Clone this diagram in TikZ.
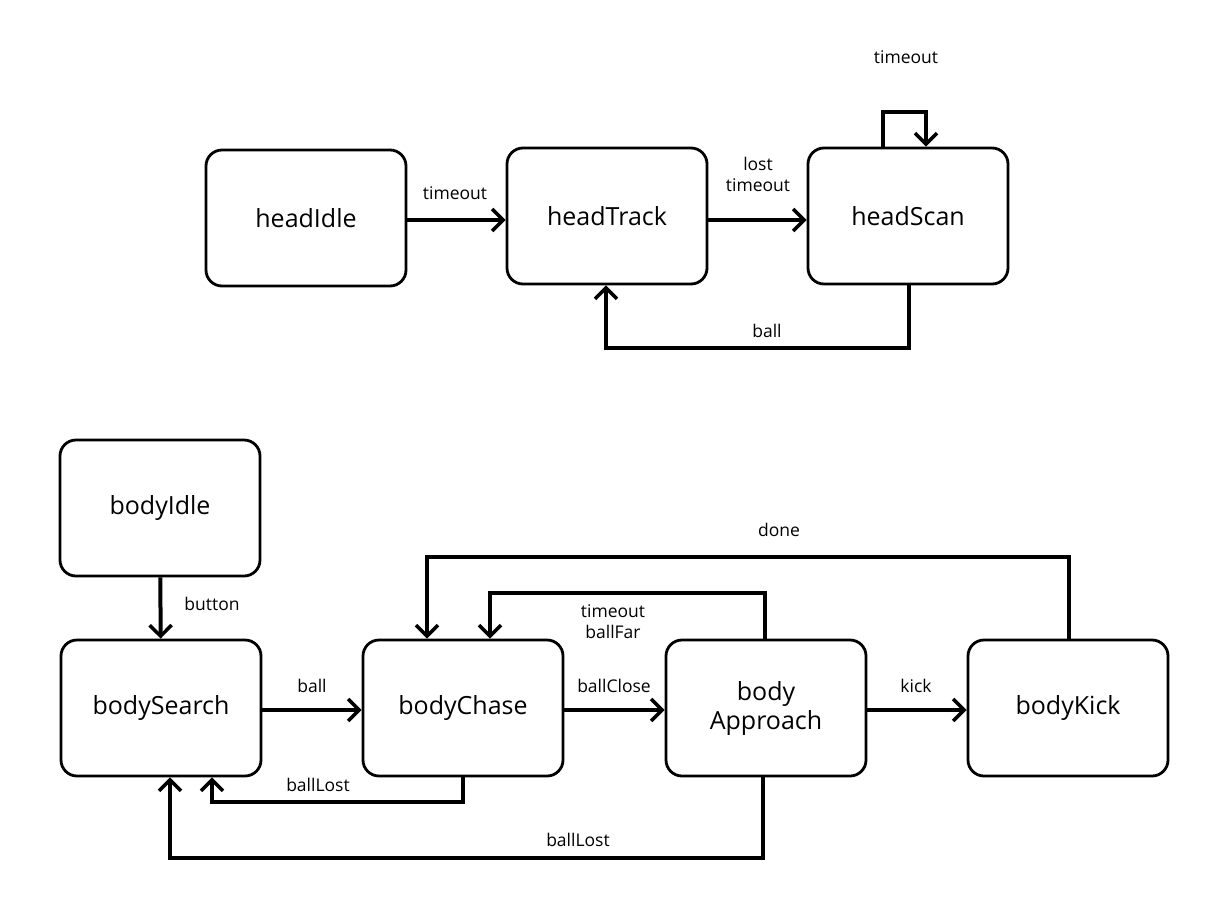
\documentclass[tikz,border=0pt]{standalone}
\usepackage{fontspec}
\setmainfont{Open Sans}
\usetikzlibrary{arrows.meta}
\begin{document}
\begin{tikzpicture}[x=1pt,y=-1pt,
  st/.style={draw,line width=2.8pt,rounded corners=16pt,minimum width=200pt,minimum height=136pt,align=center,font=\fontsize{25}{29}\selectfont},
  tr/.style={line width=4pt,-{Straight Barb[length=11pt,width=22pt,line width=3.5pt]}},
  lb/.style={font=\fontsize{17.5}{21}\selectfont,inner sep=1pt,align=center}]
\useasboundingbox (0,0) rectangle (1214,902);
\node[st] (hi) at (306,218) {headIdle};
\node[st] (ht) at (607,216) {headTrack};
\node[st] (hs) at (908,216) {headScan};
\node[st] (bi) at (160,508) {bodyIdle};
\node[st] (bs) at (161,708) {bodySearch};
\node[st] (bc) at (463,708) {bodyChase};
\node[st] (ba) at (766,708) {body\\Approach};
\node[st] (bk) at (1068,708) {bodyKick};

\draw[tr] (hi.east |- 0,220) -- (ht.west |- 0,220);
\node[lb] at (455,193) {timeout};
\draw[tr] (ht.east |- 0,220) -- (hs.west |- 0,220);
\node[lb] at (758,174) {lost\\timeout};
\draw[tr] (hs.north -| 883,0) -- (883,112) -- (926,112) -- (hs.north -| 926,0);
\node[lb] at (906,57) {timeout};
\draw[tr] (hs.south -| 909,0) -- (909,348) -- (606,348) -- (ht.south -| 606,0);
\node[lb] at (767,331) {ball};

\draw[tr] (bi) -- (bs);
\node[lb] at (212,604) {button};
\draw[tr] (bs.east |- 0,710) -- (bc.west |- 0,710);
\node[lb] at (312,686) {ball};
\draw[tr] (bc.east |- 0,710) -- (ba.west |- 0,710);
\node[lb] at (614,686) {ballClose};
\draw[tr] (ba.east |- 0,710) -- (bk.west |- 0,710);
\node[lb] at (916,686) {kick};
\draw[tr] (bk.north -| 1069,0) -- (1069,557) -- (427,557) -- (bc.north -| 427,0);
\node[lb] at (779,530) {done};
\draw[tr] (ba.north -| 765,0) -- (765,593) -- (490,593) -- (bc.north -| 490,0);
\node[lb] at (613,622) {timeout\\ballFar};
\draw[tr] (bc.south -| 463,0) -- (463,802) -- (212,802) -- (bs.south -| 212,0);
\node[lb] at (318,785) {ballLost};
\draw[tr] (ba.south -| 763,0) -- (763,858) -- (170,858) -- (bs.south -| 170,0);
\node[lb] at (578,840) {ballLost};
\end{tikzpicture}
\end{document}
